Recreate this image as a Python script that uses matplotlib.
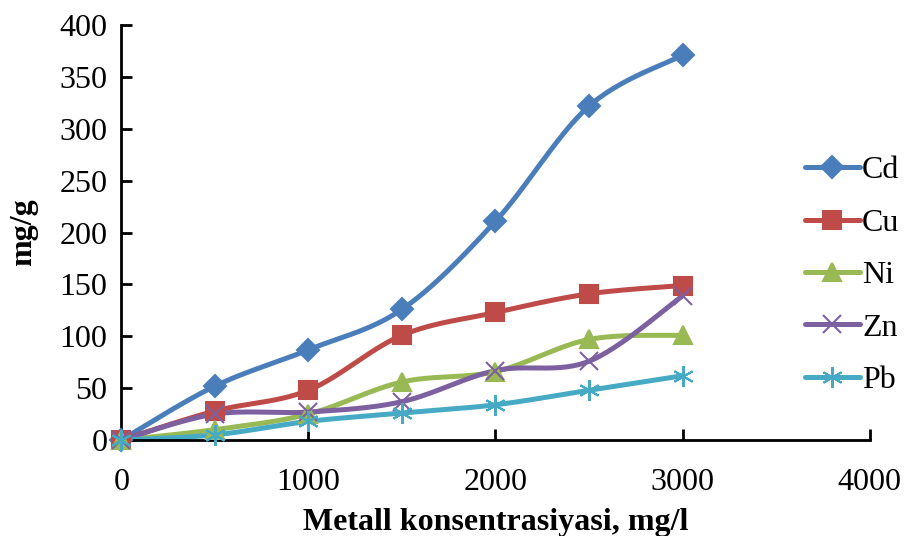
import numpy as np
import matplotlib.pyplot as plt

plt.rcParams['font.family'] = ['Liberation Serif', 'DejaVu Serif']

# --
# Data

conc = [0, 500, 1000, 1500, 2000, 2500, 3000]
cd = [0, 52, 87, 126, 211, 322, 371]
cu = [0, 28, 48, 101, 123, 141, 149]
ni = [0, 10, 25, 56, 66, 97, 101]
zn = [0, 25, 27, 37, 67, 76, 139]
pb = [0, 5, 18, 26, 34, 48, 62]

names = ['Cd', 'Cu', 'Ni', 'Zn', 'Pb']
colors = ['#4A7EBB', '#BE4B48', '#98B954', '#7D60A0', '#46AAC5']


def smooth(x, y, n=30):
    '''Catmull-Rom style curve through the points (like Excel smoothed lines)'''
    x = np.asarray(x, float)
    y = np.asarray(y, float)
    xs, ys = [], []
    for i in range(len(x) - 1):
        p0 = (x[max(i - 1, 0)], y[max(i - 1, 0)])
        p1 = (x[i], y[i])
        p2 = (x[i + 1], y[i + 1])
        p3 = (x[min(i + 2, len(x) - 1)], y[min(i + 2, len(x) - 1)])
        c1 = (p1[0] + (p2[0] - p0[0]) / 6, p1[1] + (p2[1] - p0[1]) / 6)
        c2 = (p2[0] - (p3[0] - p1[0]) / 6, p2[1] - (p3[1] - p1[1]) / 6)
        t = np.linspace(0, 1, n)
        bx = (1-t)**3*p1[0] + 3*(1-t)**2*t*c1[0] + 3*(1-t)*t**2*c2[0] + t**3*p2[0]
        by = (1-t)**3*p1[1] + 3*(1-t)**2*t*c1[1] + 3*(1-t)*t**2*c2[1] + t**3*p2[1]
        xs.extend(bx)
        ys.extend(by)
    return np.array(xs), np.array(ys)


fig = plt.figure(figsize=(9.05, 5.36), dpi=100)
ax = fig.add_axes([0.134, 0.179, 0.827, 0.774])

series = [cd, cu, ni, zn, pb]
markers = ['D', 's', '^', 'x', (6, 2, 0)]
msizes = [11, 13, 13, 13, 15]
handles = []
for vals, name, col, mk, ms in zip(series, names, colors, markers, msizes):
    sx, sy = smooth(conc, vals)
    ax.plot(sx, sy, color=col, lw=3.6, solid_capstyle='round', zorder=2)
    ax.plot(conc, vals, linestyle='none', marker=mk, markersize=ms,
            color=col, markeredgecolor=col, markeredgewidth=1.5, zorder=3)
    h, = ax.plot([], [], color=col, lw=3.6, marker=mk, markersize=ms,
                 markeredgecolor=col, markeredgewidth=1.5, label=name,
                 solid_capstyle='round')
    handles.append(h)

ax.set_xlim(0, 4000)
ax.set_ylim(0, 400)
ax.set_xticks(range(0, 4001, 1000))
ax.set_yticks(range(0, 401, 50))
ax.spines['top'].set_visible(False)
ax.spines['right'].set_visible(False)
ax.spines['left'].set_linewidth(2)
ax.spines['bottom'].set_linewidth(2)
ax.tick_params(direction='in', length=8, width=2, labelsize=23)
ax.tick_params(axis='x', pad=20)
ax.tick_params(axis='y', pad=10)
for ln in ax.lines:
    ln.set_clip_on(False)

ax.set_xlabel('Metall konsentrasiyasi, mg/l', fontsize=23, fontweight='bold', labelpad=8)
ax.set_ylabel('mg/g', fontsize=23, fontweight='bold', labelpad=15)

fig.legend(handles=handles, loc='center left', bbox_to_anchor=(0.889, 0.486),
           frameon=False, fontsize=23, handlelength=1.75, handletextpad=0.05,
           labelspacing=0.72, borderaxespad=0, borderpad=0)

fig.savefig('out.png', dpi=100)
